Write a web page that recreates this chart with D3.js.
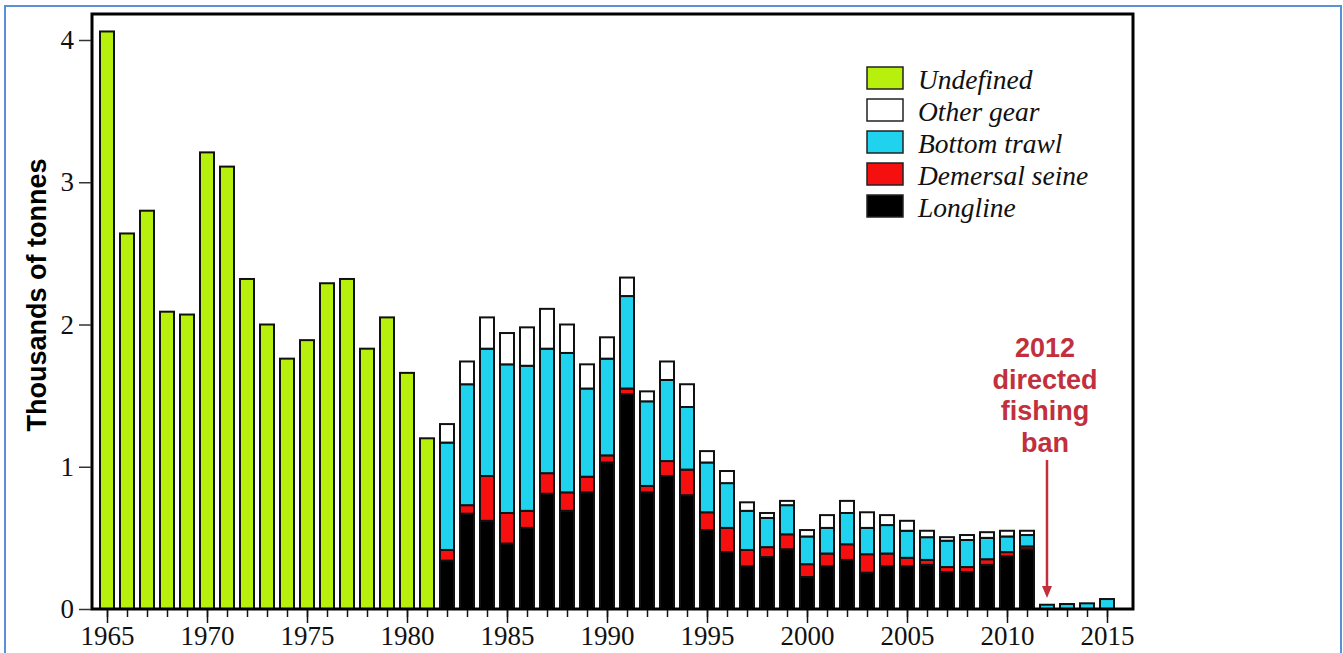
<!DOCTYPE html>
<html><head><meta charset="utf-8">
<script src="https://cdn.jsdelivr.net/npm/d3@7/dist/d3.min.js"></script>
<style>body{margin:0;background:#fff}svg{display:block}</style>
</head><body><svg id="c" width="1343" height="653"></svg>
<script>
const years = d3.range(1965, 2016);
const undefinedGear = [4.06,2.64,2.80,2.09,2.07,3.21,3.11,2.32,2.00,1.76,1.89,2.29,2.32,1.83,2.05,1.66,1.20,
  0,0,0,0,0,0,0,0,0,0,0,0,0,0,0,0,0,0,0,0,0,0,0,0,0,0,0,0,0,0,0,0,0,0,0,0,0,0,0];
const longline = [0,0,0,0,0,0,0,0,0,0,0,0,0,0,0,0,0,
  0.34,0.67,0.62,0.46,0.57,0.81,0.69,0.82,1.03,1.51,0.82,0.935,0.80,0.555,0.40,0.30,0.365,0.42,0.225,0.30,0.345,0.255,0.30,0.30,0.31,0.26,0.26,0.31,0.37,0.42,
  0,0,0,0];
const demersalSeine = [0,0,0,0,0,0,0,0,0,0,0,0,0,0,0,0,0,
  0.075,0.06,0.315,0.215,0.12,0.145,0.13,0.11,0.05,0.04,0.045,0.105,0.18,0.125,0.17,0.115,0.07,0.105,0.09,0.09,0.11,0.13,0.09,0.06,0.035,0.035,0.035,0.04,0.03,0.02,
  0,0,0,0];
const bottomTrawl = [0,0,0,0,0,0,0,0,0,0,0,0,0,0,0,0,0,
  0.755,0.85,0.895,1.045,1.02,0.875,0.98,0.62,0.68,0.65,0.595,0.57,0.44,0.35,0.315,0.275,0.205,0.205,0.195,0.18,0.22,0.185,0.20,0.19,0.16,0.185,0.19,0.15,0.11,0.08,
  0.03,0.035,0.04,0.07];
const otherGear = [0,0,0,0,0,0,0,0,0,0,0,0,0,0,0,0,0,
  0.13,0.16,0.22,0.22,0.27,0.28,0.20,0.17,0.15,0.13,0.07,0.13,0.16,0.08,0.085,0.06,0.035,0.03,0.045,0.09,0.085,0.11,0.07,0.07,0.045,0.025,0.035,0.04,0.04,0.03,
  0,0,0,0];
const seriesKeys = ["Longline","Demersal seine","Bottom trawl","Other gear","Undefined"];
const seriesColors = ["#000000","#f50f0f","#1fd3ee","#ffffff","#b6f00c"];
const legendOrder = ["Undefined","Other gear","Bottom trawl","Demersal seine","Longline"];
const yTicks = [0,1,2,3,4];
const xMajor = [1965,1970,1975,1980,1985,1990,1995,2000,2005,2010,2015];
const annotationLines = ["2012","directed","fishing","ban"];

const table = years.map((y,i)=>({year:y,"Longline":longline[i],"Demersal seine":demersalSeine[i],
  "Bottom trawl":bottomTrawl[i],"Other gear":otherGear[i],"Undefined":undefinedGear[i]}));
const stack = d3.stack().keys(seriesKeys)(table);
const color = d3.scaleOrdinal(seriesKeys, seriesColors);

const svg = d3.select("#c");
// outer blue frame
svg.append("rect").attr("x",5).attr("y",6).attr("width",1336).attr("height",660)
  .attr("fill","none").attr("stroke","#5b8fd6").attr("stroke-width",2);

const L=92, R=1133, T=14, B=609;
const x = d3.scaleLinear().domain([1965,2015]).range([107,1107]);
const y = d3.scaleLinear().domain([0,4]).range([B, B-4*142.25]);
const bw = 14;

const g = svg.append("g");
stack.forEach(layer=>{
  g.append("g").selectAll("rect").data(layer.filter(d=>d[1]-d[0]>0)).join("rect")
    .attr("x",d=>x(d.data.year)-bw/2).attr("width",bw)
    .attr("y",d=>y(d[1])).attr("height",d=>y(d[0])-y(d[1]))
    .attr("fill",color(layer.key)).attr("stroke","#111").attr("stroke-width",2);
});

// frame
svg.append("rect").attr("x",L).attr("y",T).attr("width",R-L).attr("height",B-T)
  .attr("fill","none").attr("stroke","#000").attr("stroke-width",3);

// y axis
const ya = svg.append("g").attr("transform",`translate(${L-1},0)`)
  .call(d3.axisLeft(y).tickValues(yTicks).tickFormat(d3.format("d")).tickSize(12).tickPadding(5));
ya.select(".domain").remove();
ya.selectAll("line").attr("stroke","#333").attr("stroke-width",1.5);
ya.selectAll("text").attr("font-family","Liberation Serif").attr("font-size",27).attr("fill","#111");

// x axis minor + major
const xm = svg.append("g").attr("transform",`translate(0,${B+1})`)
  .call(d3.axisBottom(x).tickValues(years).tickFormat("").tickSize(7));
xm.select(".domain").remove();
xm.selectAll("line").attr("stroke","#111").attr("stroke-width",1.5);
const xa = svg.append("g").attr("transform",`translate(0,${B+1})`)
  .call(d3.axisBottom(x).tickValues(xMajor).tickFormat(d3.format("d")).tickSize(13).tickPadding(3));
xa.select(".domain").remove();
xa.selectAll("line").attr("stroke","#111").attr("stroke-width",1.5);
xa.selectAll("text").attr("font-family","Liberation Serif").attr("font-size",27).attr("fill","#111");

// y title
svg.append("text").attr("transform","translate(46,295) rotate(-90)").attr("text-anchor","middle")
  .attr("font-family","Liberation Sans").attr("font-weight","bold").attr("font-size",27)
  .text("Thousands of tonnes");

// legend
const lg = svg.append("g").attr("transform","translate(867,67)");
legendOrder.forEach((k,i)=>{
  lg.append("rect").attr("x",0).attr("y",i*32).attr("width",36).attr("height",22)
    .attr("fill",color(k)).attr("stroke","#222").attr("stroke-width",1.5);
  lg.append("text").attr("x",51).attr("y",i*32+22).attr("font-family","Liberation Serif")
    .attr("font-style","italic").attr("font-size",27.5).attr("fill","#111").text(k);
});

// annotation
const ac = "#c1303c";
const ag = svg.append("g");
annotationLines.forEach((t,i)=>{
  ag.append("text").attr("x",1045).attr("y",357+i*31.5).attr("text-anchor","middle")
    .attr("font-family","Liberation Sans").attr("font-weight","bold").attr("font-size",27)
    .attr("fill",ac).text(t);
});
const ax = x(2012);
ag.append("line").attr("x1",ax).attr("x2",ax).attr("y1",460).attr("y2",588)
  .attr("stroke",ac).attr("stroke-width",2.5);
ag.append("path").attr("d",`M${ax-5},586 L${ax+5},586 L${ax},598 Z`).attr("fill",ac);
</script></body></html>
